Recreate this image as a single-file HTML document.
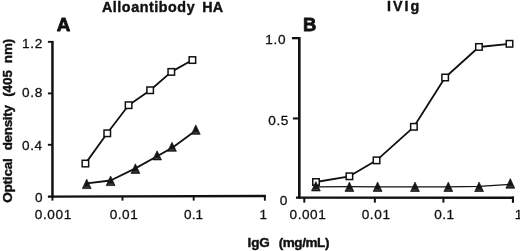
<!DOCTYPE html>
<html><head><meta charset="utf-8"><title>Figure</title>
<style>
html,body{margin:0;padding:0;background:#fff;}
body{width:520px;height:251px;overflow:hidden;font-family:"Liberation Sans",sans-serif;}
svg{display:block;will-change:transform;filter:grayscale(1);}
</style></head><body>
<svg width="520" height="251" viewBox="0 0 520 251">
<rect width="520" height="251" fill="#fff"/>
<g font-family="'Liberation Sans', sans-serif" fill="#111" stroke="#111" stroke-linejoin="round">
<text id="a12" x="22.10" y="47.7" font-size="13.6" stroke-width="0.3" letter-spacing="0.650">1.2</text>
<text id="a08" x="22.10" y="97.3" font-size="13.6" stroke-width="0.3" letter-spacing="0.650">0.8</text>
<text id="a04" x="22.10" y="149.9" font-size="13.6" stroke-width="0.3" letter-spacing="0.525">0.4</text>
<text id="a0" x="35.10" y="201.9" font-size="13.6" stroke-width="0.3">0</text>
<text id="ax001" x="34.75" y="219.4" font-size="13.6" stroke-width="0.3" letter-spacing="0.612">0.001</text>
<text id="ax01" x="109.65" y="219.2" font-size="13.6" stroke-width="0.3" letter-spacing="0.533">0.01</text>
<text id="ax1" x="184.10" y="219.2" font-size="13.6" stroke-width="0.3" letter-spacing="0.000">0.1</text>
<text id="axe" x="259.60" y="219.0" font-size="13.6" stroke-width="0.3">1</text>
<text id="b10" x="265.25" y="44.0" font-size="13.6" stroke-width="0.3" letter-spacing="0.750">1.0</text>
<text id="b05" x="268.25" y="125.1" font-size="13.6" stroke-width="0.3" letter-spacing="0.575">0.5</text>
<text id="b0" x="279.75" y="204.5" font-size="13.6" stroke-width="0.3">0</text>
<text id="bx001" x="289.60" y="219.1" font-size="13.6" stroke-width="0.3" letter-spacing="0.525">0.001</text>
<text id="bx01" x="361.70" y="218.9" font-size="13.6" stroke-width="0.3" letter-spacing="0.617">0.01</text>
<text id="bx1" x="434.30" y="218.9" font-size="13.6" stroke-width="0.3" letter-spacing="0.375">0.1</text>
<text id="bxe" x="514.75" y="218.9" font-size="13.6" stroke-width="0.3">1</text>
<text id="tA1" x="101.90" y="11.6" font-size="14.3" font-weight="bold" stroke-width="0.4" letter-spacing="0.559">Alloantibody</text>
<text id="tA2" x="202.20" y="11.6" font-size="14.3" font-weight="bold" stroke-width="0.4" letter-spacing="0.300">HA</text>
<text id="tB" x="387.00" y="11.4" font-size="14.3" font-weight="bold" stroke-width="0.4" letter-spacing="2.033">IVIg</text>
<text id="xl1" x="247.50" y="246.9" font-size="13.5" font-weight="bold" stroke-width="0.4" letter-spacing="-0.100">IgG</text>
<text id="xl2" x="278.65" y="246.9" font-size="13.5" font-weight="bold" stroke-width="0.4" letter-spacing="-0.408">(mg/mL)</text>
<text id="pA" x="56.85" y="30.9" font-size="18.8" font-weight="bold" stroke-width="0.8">A</text>
<text id="pB" x="303.10" y="30.9" font-size="18.4" font-weight="bold" stroke-width="0.8">B</text>
<text id="y1" transform="translate(11.55,202.85) rotate(-90)" font-size="13.5" font-weight="bold" stroke-width="0.4" letter-spacing="-0.175">Optical</text>
<text id="y2" transform="translate(11.55,150.35) rotate(-90)" font-size="13.5" font-weight="bold" stroke-width="0.4" letter-spacing="-0.325">density</text>
<text id="y3" transform="translate(11.55,96.85) rotate(-90)" font-size="13.5" font-weight="bold" stroke-width="0.4" letter-spacing="-0.083">(405</text>
<text id="y4" transform="translate(11.55,63.15) rotate(-90)" font-size="13.5" font-weight="bold" stroke-width="0.4" letter-spacing="-0.175">nm)</text>
</g>
<g stroke="#111" fill="none">
<path d="M52.45,40.9 V197.8" stroke-width="2.5"/>
<path d="M47.9,196.7 L265.8,196.0" stroke-width="2.3"/>
<path d="M47.9,41.85 H52.4" stroke-width="1.9"/>
<path d="M47.9,93.4 H52.4" stroke-width="1.9"/>
<path d="M47.9,144.8 H52.4" stroke-width="1.9"/>
<path d="M52.45,196.7 V200.6" stroke-width="1.9"/>
<path d="M122.5,196.5 V200.6" stroke-width="1.9"/>
<path d="M193.7,196.3 V200.6" stroke-width="1.9"/>
<path d="M264.85,195.0 V200.7" stroke-width="1.9"/>
</g>
<g stroke="#111" fill="none">
<path d="M299.3,37.0 V198.7" stroke-width="2.65"/>
<path d="M295.95,197.6 L514,197.75" stroke-width="2.3"/>
<path d="M291.9,38.15 H299.3" stroke-width="2.3"/>
<path d="M292.9,118.45 H299.3" stroke-width="2.1"/>
<path d="M304.3,197.6 V202.6" stroke-width="2.0"/>
<path d="M374.85,197.6 V202.6" stroke-width="2.0"/>
<path d="M443.4,197.6 V202.6" stroke-width="2.0"/>
<path d="M512.95,196.6 V202.8" stroke-width="2.1"/>
</g>
<g stroke="#111" stroke-width="1.8" fill="none" stroke-linejoin="round">
<polyline points="85.4,163.6 107.2,133.3 128.6,105.2 150.2,90.2 171.3,71.9 192.4,60.0"/>
<polyline points="86.8,183.4 110.6,180.5 135.4,168.4 157.1,156.3 172.0,147.9 195.8,130.5"/>
<polyline points="316.0,182.0 349.4,176.3 376.6,160.3 413.9,126.8 445.1,77.5 478.9,47.0 509.5,43.8"/>
<polyline points="315.9,186.9 349.4,186.7 377.6,186.9 415.0,186.8 448.3,186.8 479.1,186.3 510.3,184.4" stroke-width="1.3"/>
</g>
<rect x="82.15" y="160.30" width="6.5" height="6.5" fill="#fff" stroke="#111" stroke-width="1.5"/>
<rect x="104.00" y="130.05" width="6.5" height="6.5" fill="#fff" stroke="#111" stroke-width="1.5"/>
<rect x="125.35" y="101.95" width="6.5" height="6.5" fill="#fff" stroke="#111" stroke-width="1.5"/>
<rect x="146.90" y="87.00" width="6.5" height="6.5" fill="#fff" stroke="#111" stroke-width="1.5"/>
<rect x="168.05" y="68.65" width="6.5" height="6.5" fill="#fff" stroke="#111" stroke-width="1.5"/>
<rect x="189.15" y="56.80" width="6.5" height="6.5" fill="#fff" stroke="#111" stroke-width="1.5"/>
<polygon points="86.75,179.20 91.15,188.60 82.35,188.60" fill="#151515" stroke="#151515" stroke-width="0.7" stroke-linejoin="miter"/>
<path d="M84.15,187.10 H89.35" stroke="#5a5a5a" stroke-width="0.8" fill="none"/>
<polygon points="110.60,176.00 115.00,185.60 106.20,185.60" fill="#151515" stroke="#151515" stroke-width="0.7" stroke-linejoin="miter"/>
<path d="M108.00,184.10 H113.20" stroke="#5a5a5a" stroke-width="0.8" fill="none"/>
<polygon points="135.40,163.80 139.80,173.40 131.00,173.40" fill="#151515" stroke="#151515" stroke-width="0.7" stroke-linejoin="miter"/>
<path d="M132.80,171.90 H138.00" stroke="#5a5a5a" stroke-width="0.8" fill="none"/>
<polygon points="157.10,150.80 161.50,159.90 152.70,159.90" fill="#151515" stroke="#151515" stroke-width="0.7" stroke-linejoin="miter"/>
<path d="M154.50,158.40 H159.70" stroke="#5a5a5a" stroke-width="0.8" fill="none"/>
<polygon points="172.00,142.30 176.40,151.30 167.60,151.30" fill="#151515" stroke="#151515" stroke-width="0.7" stroke-linejoin="miter"/>
<path d="M169.40,149.80 H174.60" stroke="#5a5a5a" stroke-width="0.8" fill="none"/>
<polygon points="195.80,124.90 200.20,134.30 191.40,134.30" fill="#151515" stroke="#151515" stroke-width="0.7" stroke-linejoin="miter"/>
<path d="M193.20,132.80 H198.40" stroke="#5a5a5a" stroke-width="0.8" fill="none"/>
<rect x="312.75" y="178.75" width="6.5" height="6.5" fill="#fff" stroke="#111" stroke-width="1.5"/>
<rect x="346.15" y="173.05" width="6.5" height="6.5" fill="#fff" stroke="#111" stroke-width="1.5"/>
<rect x="373.30" y="157.10" width="6.5" height="6.5" fill="#fff" stroke="#111" stroke-width="1.5"/>
<rect x="410.65" y="123.55" width="6.5" height="6.5" fill="#fff" stroke="#111" stroke-width="1.5"/>
<rect x="441.90" y="74.25" width="6.5" height="6.5" fill="#fff" stroke="#111" stroke-width="1.5"/>
<rect x="475.70" y="43.70" width="6.5" height="6.5" fill="#fff" stroke="#111" stroke-width="1.5"/>
<rect x="506.25" y="40.55" width="6.5" height="6.5" fill="#fff" stroke="#111" stroke-width="1.5"/>
<polygon points="315.90,181.60 320.30,190.90 311.50,190.90" fill="#151515" stroke="#151515" stroke-width="0.7" stroke-linejoin="miter"/>
<path d="M313.30,189.40 H318.50" stroke="#5a5a5a" stroke-width="0.8" fill="none"/>
<polygon points="349.40,182.10 353.80,191.40 345.00,191.40" fill="#151515" stroke="#151515" stroke-width="0.7" stroke-linejoin="miter"/>
<path d="M346.80,189.90 H352.00" stroke="#5a5a5a" stroke-width="0.8" fill="none"/>
<polygon points="377.60,182.00 382.00,191.40 373.20,191.40" fill="#151515" stroke="#151515" stroke-width="0.7" stroke-linejoin="miter"/>
<path d="M375.00,189.90 H380.20" stroke="#5a5a5a" stroke-width="0.8" fill="none"/>
<polygon points="415.00,182.10 419.40,191.50 410.60,191.50" fill="#151515" stroke="#151515" stroke-width="0.7" stroke-linejoin="miter"/>
<path d="M412.40,190.00 H417.60" stroke="#5a5a5a" stroke-width="0.8" fill="none"/>
<polygon points="448.30,182.10 452.70,191.50 443.90,191.50" fill="#151515" stroke="#151515" stroke-width="0.7" stroke-linejoin="miter"/>
<path d="M445.70,190.00 H450.90" stroke="#5a5a5a" stroke-width="0.8" fill="none"/>
<polygon points="479.10,182.10 483.50,191.50 474.70,191.50" fill="#151515" stroke="#151515" stroke-width="0.7" stroke-linejoin="miter"/>
<path d="M476.50,190.00 H481.70" stroke="#5a5a5a" stroke-width="0.8" fill="none"/>
<polygon points="510.30,178.60 514.70,188.20 505.90,188.20" fill="#151515" stroke="#151515" stroke-width="0.7" stroke-linejoin="miter"/>
<path d="M507.70,186.70 H512.90" stroke="#5a5a5a" stroke-width="0.8" fill="none"/>
</svg>
</body></html>
